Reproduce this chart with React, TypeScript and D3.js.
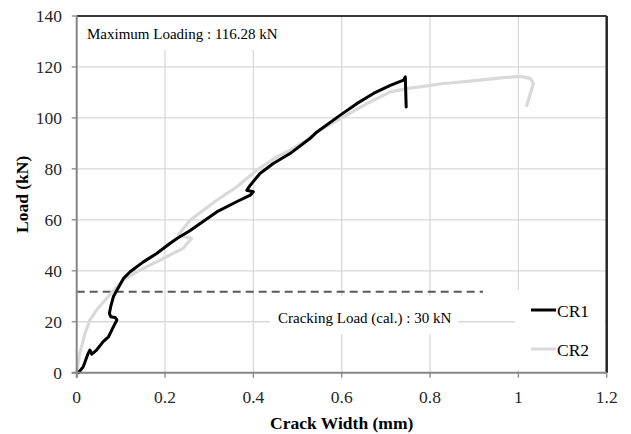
import React from "react";
import * as d3 from "d3";

const xTicks = [0, 0.2, 0.4, 0.6, 0.8, 1, 1.2];
const yTicks = [0, 20, 40, 60, 80, 100, 120, 140];

const cr1X = [0.004, 0.015, 0.026, 0.03, 0.034, 0.045, 0.06, 0.072, 0.083, 0.091, 0.087, 0.077, 0.074, 0.077, 0.083, 0.091, 0.106, 0.121, 0.151, 0.181, 0.211, 0.227, 0.257, 0.317, 0.362, 0.393, 0.4, 0.385, 0.393, 0.415, 0.445, 0.483, 0.528, 0.544, 0.596, 0.634, 0.672, 0.71, 0.74, 0.744, 0.746];
const cr1Y = [0, 2.4, 7.6, 8.9, 7.3, 8.9, 12.2, 14.1, 18.0, 20.7, 21.7, 22.0, 23.3, 25.9, 29.8, 32.4, 37.0, 39.6, 43.5, 46.8, 50.7, 52.7, 55.8, 63.1, 67.1, 69.7, 71.0, 71.6, 73.6, 78.2, 82.1, 86.0, 91.9, 94.5, 101, 105.6, 109.6, 112.8, 114.8, 116.1, 104.3];

const cr2X = [0, 0.002, 0.007, 0.019, 0.03, 0.045, 0.068, 0.091, 0.106, 0.136, 0.174, 0.211, 0.241, 0.26, 0.23, 0.257, 0.317, 0.362, 0.408, 0.453, 0.483, 0.521, 0.544, 0.604, 0.657, 0.71, 0.747, 0.785, 0.83, 0.846, 0.913, 0.966, 1.004, 1.027, 1.034, 1.019];
const cr2Y = [0, 2.4, 7.6, 15.5, 20.7, 24.6, 29.2, 33.7, 36.4, 39.6, 42.9, 46.2, 48.8, 52.7, 54.0, 59.9, 67.7, 72.9, 79.5, 84.7, 87.3, 91.3, 94.5, 100.4, 105.6, 110.2, 111.5, 112.4, 113.5, 113.7, 114.8, 115.8, 116.28, 115.5, 113.5, 104.9];

const crackingX = [0, 0.92];
const crackingLoad = 31.8;

const seriesNames = ["CR1", "CR2"];
const seriesColors = ["#000000", "#d9d9d9"];

const FONT = "Liberation Serif, Times New Roman, serif";

export default function App() {
  const W = 631, H = 434;
  const x = d3.scaleLinear().domain([0, 1.2]).range([76.7, 606.7]);
  const y = d3.scaleLinear().domain([0, 140]).range([372.7, 16]);
  const line = d3.line<[number, number]>().x(d => x(d[0])).y(d => y(d[1]));
  const cr1 = cr1X.map((v, i) => [v, cr1Y[i]] as [number, number]);
  const cr2 = cr2X.map((v, i) => [v, cr2Y[i]] as [number, number]);
  const [x0, x1] = x.range();
  const [y0, y1] = y.range();
  const tf = { fontFamily: FONT } as React.CSSProperties;

  return (
    <div style={{ position: "absolute", left: 0, top: 0 }}>
      <svg width={W} height={H} style={{ display: "block", background: "#fff", fontFamily: FONT }}>
        {yTicks.slice(1).map(t => (
          <line key={"gy" + t} x1={x0} x2={x1} y1={y(t)} y2={y(t)} stroke="#d9d9d9" strokeWidth={1.3} />
        ))}
        {xTicks.slice(1).map(t => (
          <line key={"gx" + t} x1={x(t)} x2={x(t)} y1={y0} y2={y1} stroke="#d9d9d9" strokeWidth={1.3} />
        ))}
        <rect x={78} y={17} width={222} height={33} fill="#fff" />
        <rect x={270} y={296} width={188} height={38} fill="#fff" />
        <rect x={515} y={290} width={90} height={80} fill="#fff" />
        <line x1={x(crackingX[0])} x2={x(crackingX[1])} y1={y(crackingLoad)} y2={y(crackingLoad)}
          stroke="#595959" strokeWidth={2} strokeDasharray="8,5" />
        <path d={line(cr2) || ""} fill="none" stroke={seriesColors[1]} strokeWidth={3.2} strokeLinejoin="round" strokeLinecap="round" />
        <path d={line(cr1) || ""} fill="none" stroke={seriesColors[0]} strokeWidth={3} strokeLinejoin="round" strokeLinecap="round" />
        <line x1={x0} x2={x1} y1={y1} y2={y1} stroke="#000" strokeWidth={1.5} />
        <line x1={x1} x2={x1} y1={y1} y2={y0} stroke="#262626" strokeWidth={2.5} />
        <line x1={x0} x2={x0} y1={y1} y2={y0 + 5} stroke="#868686" strokeWidth={2} />
        <line x1={x0 - 5} x2={x1} y1={y0} y2={y0} stroke="#868686" strokeWidth={2} />
        {yTicks.map(t => (
          <g key={"ty" + t}>
            <line x1={x0 - 5} x2={x0} y1={y(t)} y2={y(t)} stroke="#868686" strokeWidth={1.3} />
            <text x={62} y={y(t)} dy="0.35em" textAnchor="end" style={tf} fontSize={17.5} fill="#262626">{t}</text>
          </g>
        ))}
        {xTicks.map(t => (
          <g key={"tx" + t}>
            <line x1={x(t)} x2={x(t)} y1={y0} y2={y0 + 5} stroke="#868686" strokeWidth={1.3} />
            <text x={x(t)} y={403} textAnchor="middle" style={tf} fontSize={17.5} fill="#262626">{String(t)}</text>
          </g>
        ))}
        <text x={(x0 + x1) / 2} y={429} textAnchor="middle" style={tf} fontWeight="bold" fontSize={17.5} fill="#000">Crack Width (mm)</text>
        <text transform={`translate(28,${(y0 + y1) / 2}) rotate(-90)`} textAnchor="middle" style={tf} fontWeight="bold" fontSize={17.5} fill="#000">Load (kN)</text>
        <text x={87} y={39} style={tf} fontSize={15} fill="#000">Maximum Loading : 116.28 kN</text>
        <text x={278} y={323} style={tf} fontSize={15} fill="#000">Cracking Load (cal.) : 30 kN</text>
        {seriesNames.map((n, i) => {
          const ly = i === 0 ? 310 : 349;
          return (
            <g key={n}>
              <line x1={531} x2={556} y1={ly} y2={ly} stroke={seriesColors[i]} strokeWidth={3} />
              <text x={557} y={ly + 7} style={tf} fontSize={17.5} fill="#000">{n}</text>
            </g>
          );
        })}
      </svg>
    </div>
  );
}
